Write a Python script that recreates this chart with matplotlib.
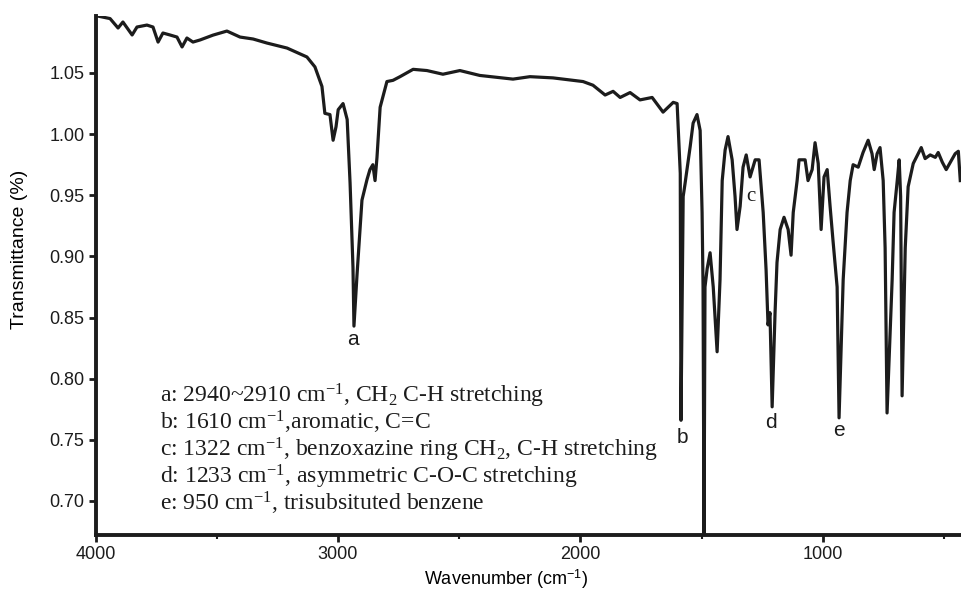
import numpy as np
import matplotlib
matplotlib.use("Agg")
import matplotlib.pyplot as plt

plt.rcParams['font.family'] = ['Liberation Sans', 'DejaVu Sans']
plt.rcParams['mathtext.fontset'] = 'custom'
plt.rcParams['mathtext.rm'] = 'Liberation Serif'
plt.rcParams['mathtext.it'] = 'Liberation Serif:italic'
plt.rcParams['mathtext.bf'] = 'Liberation Serif:bold'
plt.rcParams['mathtext.sf'] = 'Liberation Sans'

# FTIR spectrum of the benzoxazine monomer (wavenumber in cm-1, transmittance)
wavenumber = [
    4000, 3994, 3940, 3907, 3887, 3849, 3829, 3788, 3763, 3742, 3722, 3693,
    3664, 3643, 3623, 3598, 3569, 3515, 3458, 3404, 3350, 3293, 3210, 3128,
    3095, 3066, 3054, 3033, 3020, 3008, 2999, 2979, 2962, 2950, 2938, 2934,
    2921, 2901, 2880, 2868, 2856, 2847, 2839, 2826, 2798, 2773, 2744, 2690,
    2633, 2567, 2497, 2415, 2278, 2208, 2113, 1989, 1948, 1898, 1865, 1836,
    1795, 1754, 1704, 1659, 1617, 1601, 1588, 1585, 1576, 1568, 1547, 1535,
    1519, 1506, 1498, 1494, 1490, 1486, 1477, 1465, 1452, 1436, 1424, 1415,
    1403, 1391, 1374, 1362, 1354, 1341, 1329, 1316, 1300, 1279, 1263, 1246,
    1234, 1226, 1218, 1209, 1197, 1189, 1176, 1160, 1143, 1131, 1122, 1106,
    1098, 1073, 1061, 1044, 1032, 1019, 1007, 995, 982, 970, 958, 941,
    933, 921, 916, 900, 887, 875, 854, 834, 813, 797, 788, 776,
    764, 751, 743, 735, 714, 706, 693, 685, 679, 673, 660, 648,
    627, 594, 578, 557, 536, 524, 507, 491, 474, 454, 441, 433,
]
transmittance = [
    1.097, 1.0967, 1.0945, 1.0868, 1.0917, 1.0811, 1.0876, 1.0892, 1.0876, 1.0753, 1.0827, 1.0811,
    1.0794, 1.0713, 1.0786, 1.0753, 1.0770, 1.0810, 1.0843, 1.0794, 1.0778, 1.0745, 1.0704, 1.0631,
    1.055, 1.039, 1.017, 1.016, 0.995, 1.006, 1.020, 1.025, 1.012, 0.960, 0.891, 0.843,
    0.886, 0.946, 0.963, 0.971, 0.975, 0.962, 0.981, 1.022, 1.043, 1.044, 1.047, 1.053,
    1.052, 1.049, 1.052, 1.048, 1.045, 1.047, 1.046, 1.043, 1.040, 1.032, 1.035, 1.030,
    1.034, 1.028, 1.030, 1.018, 1.026, 1.025, 0.968, 0.766, 0.949, 0.960, 0.990, 1.009,
    1.016, 1.003, 0.936, 0.875, 0.668, 0.875, 0.890, 0.903, 0.875, 0.822, 0.881, 0.962,
    0.987, 0.998, 0.979, 0.949, 0.922, 0.941, 0.973, 0.983, 0.965, 0.979, 0.979, 0.936,
    0.889, 0.844, 0.854, 0.777, 0.854, 0.895, 0.922, 0.932, 0.922, 0.901, 0.936, 0.962,
    0.979, 0.979, 0.962, 0.971, 0.993, 0.976, 0.922, 0.965, 0.971, 0.941, 0.913, 0.875,
    0.768, 0.848, 0.881, 0.936, 0.962, 0.975, 0.973, 0.985, 0.995, 0.984, 0.971, 0.984,
    0.989, 0.962, 0.907, 0.772, 0.881, 0.936, 0.962, 0.979, 0.949, 0.786, 0.907, 0.957,
    0.976, 0.989, 0.980, 0.983, 0.981, 0.985, 0.977, 0.971, 0.977, 0.984, 0.986, 0.962,
]

peak_labels = ['a', 'b', 'c', 'd', 'e']
peak_label_x = [2938, 1580, 1296, 1213, 933]
peak_label_y = [0.832, 0.752, 0.949, 0.764, 0.758]

assignments = [
    r"a: 2940~2910 cm$^{-1}$, CH$_2$ C-H stretching",
    r"b: 1610 cm$^{-1}$,aromatic, C=C",
    r"c: 1322 cm$^{-1}$, benzoxazine ring CH$_2$, C-H stretching",
    r"d: 1233 cm$^{-1}$, asymmetric C-O-C stretching",
    r"e: 950 cm$^{-1}$, trisubsituted benzene",
]

fig = plt.figure(figsize=(9.61, 5.91), dpi=100)
ax = fig.add_axes([0.0994, 0.0948, 0.9006, 0.8781])

ax.plot(wavenumber, transmittance, color='#1c1c1c', lw=2.3, solid_joinstyle='round')

ax.set_xlim(4000, 430)
ax.set_ylim(0.6722, 1.0966)

ax.set_xticks([4000, 3000, 2000, 1000])
ax.set_xticks([3500, 2500, 1500, 500], minor=True)
ax.set_yticks(np.arange(0.70, 1.0501, 0.05))
ax.yaxis.set_major_formatter(matplotlib.ticker.FormatStrFormatter('%.2f'))

for side in ['top', 'right']:
    ax.spines[side].set_visible(False)
for side in ['left', 'bottom']:
    ax.spines[side].set_linewidth(2.8)
    ax.spines[side].set_color('#1c1c1c')

ax.tick_params(axis='both', which='major', direction='out', length=5, width=2,
               labelsize=13, color='#1c1c1c', labelcolor='#1c1c1c', pad=3)
ax.tick_params(axis='x', which='minor', direction='out', length=3, width=1.5, color='#1c1c1c')

ax.set_xlabel(r"Wavenumber (cm$^{\mathsf{-1}}$)", fontsize=13)
ax.xaxis.set_label_coords(0.474, -0.062)
ax.set_ylabel("Transmittance (%)", fontsize=14)
ax.yaxis.set_label_coords(-0.078, 0.55)

# peak markers under the absorption bands
for lab, px, py in zip(peak_labels, peak_label_x, peak_label_y):
    fam = 'Liberation Serif' if lab == 'c' else 'Liberation Sans'
    ax.text(px, py, lab, ha='center', va='center', fontsize=15, family=fam, color='#1c1c1c')

# band assignments
line_y = [0.7802, 0.7581, 0.7360, 0.7139, 0.6919]
for txt, y in zip(assignments, line_y):
    ax.text(3734, y, txt, ha='left', va='baseline', fontsize=17,
            family='Liberation Serif', color='#1c1c1c')

fig.savefig('out.png', dpi=100)
